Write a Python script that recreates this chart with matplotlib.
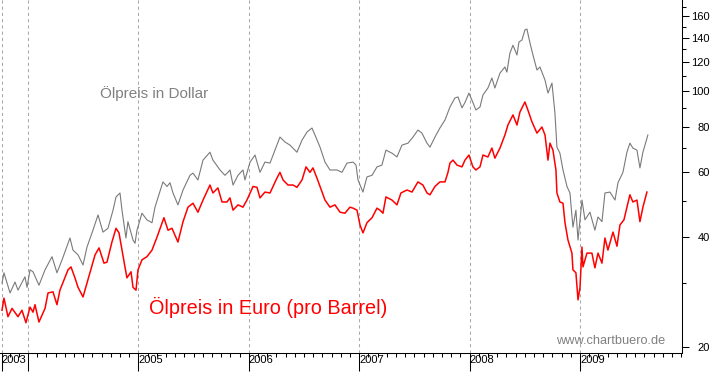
import matplotlib.pyplot as plt
from matplotlib.ticker import NullFormatter

plt.rcParams['font.family'] = ['Liberation Sans', 'DejaVu Sans']

# oil price in dollar (decimal year, price)
dollar_t = [2003.764, 2003.782, 2003.837, 2003.882, 2003.909, 2003.972, 2003.991, 2004.018, 2004.045, 2004.099,
            2004.154, 2004.217, 2004.262, 2004.308, 2004.380, 2004.407, 2004.453, 2004.498, 2004.534, 2004.588,
            2004.634, 2004.679, 2004.724, 2004.770, 2004.797, 2004.833, 2004.851, 2004.887, 2004.905, 2004.951,
            2004.969, 2004.987, 2005.032, 2005.077, 2005.123, 2005.150, 2005.222, 2005.259, 2005.286, 2005.313,
            2005.358, 2005.404, 2005.467, 2005.494, 2005.539, 2005.585, 2005.648, 2005.675, 2005.739, 2005.784,
            2005.811, 2005.829, 2005.857, 2005.902, 2005.947, 2005.965, 2006.011, 2006.056, 2006.101, 2006.146,
            2006.192, 2006.237, 2006.282, 2006.328, 2006.373, 2006.436, 2006.482, 2006.527, 2006.572, 2006.599,
            2006.645, 2006.690, 2006.735, 2006.799, 2006.844, 2006.889, 2006.944, 2006.971, 2006.989, 2007.034,
            2007.070, 2007.116, 2007.161, 2007.206, 2007.242, 2007.297, 2007.342, 2007.387, 2007.442, 2007.487,
            2007.532, 2007.568, 2007.614, 2007.641, 2007.686, 2007.731, 2007.777, 2007.822, 2007.867, 2007.895,
            2007.931, 2007.958, 2007.994, 2008.030, 2008.057, 2008.094, 2008.121, 2008.166, 2008.202, 2008.229,
            2008.275, 2008.320, 2008.338, 2008.365, 2008.393, 2008.429, 2008.447, 2008.474, 2008.501, 2008.519,
            2008.547, 2008.574, 2008.610, 2008.637, 2008.683, 2008.710, 2008.746, 2008.773, 2008.791, 2008.818,
            2008.846, 2008.882, 2008.909, 2008.936, 2008.963, 2008.982, 2009.018, 2009.045, 2009.090, 2009.135,
            2009.163, 2009.199, 2009.226, 2009.271, 2009.317, 2009.344, 2009.389, 2009.425, 2009.452, 2009.479,
            2009.516, 2009.543, 2009.570, 2009.615]
dollar = [29.9, 31.9, 28.1, 30.1, 28.6, 31.1, 29.1, 32.5, 32.1, 29.5,
          32.5, 35.3, 31.9, 34.6, 39.7, 36.8, 35.7, 33.5, 37.5, 41.7,
          45.9, 41.2, 42.2, 47.3, 51.4, 52.7, 47.3, 39.7, 44.0, 39.2,
          38.4, 41.7, 46.4, 44.5, 43.7, 48.2, 56.5, 54.9, 56.2, 52.7,
          48.9, 53.7, 58.9, 59.7, 57.2, 64.8, 68.1, 64.8, 60.9, 58.9,
          60.0, 60.9, 55.4, 58.9, 60.9, 57.2, 64.0, 66.9, 60.0, 64.0,
          63.6, 69.0, 74.9, 72.6, 71.2, 68.1, 73.5, 77.3, 79.3, 75.9,
          70.3, 64.0, 60.9, 60.9, 60.0, 63.6, 64.0, 62.8, 57.2, 53.0,
          58.3, 58.9, 62.1, 62.8, 69.0, 67.7, 66.1, 71.2, 72.1, 74.9,
          78.3, 76.8, 72.1, 70.3, 74.9, 79.3, 83.4, 90.5, 95.8, 96.4,
          90.0, 93.1, 98.8, 93.1, 88.8, 90.5, 97.6, 102.0, 108.6, 102.0,
          112.0, 116.4, 112.7, 127.0, 133.5, 125.5, 136.2, 137.9, 146.9, 147.8,
          135.4, 125.5, 114.2, 116.4, 107.2, 98.8, 105.2, 87.1, 70.3, 67.7,
          60.9, 54.9, 52.7, 42.5, 47.3, 39.2, 50.4, 44.5, 46.7, 41.7,
          45.3, 44.0, 52.7, 53.0, 50.4, 56.2, 60.0, 68.1, 72.1, 69.9,
          69.0, 61.7, 68.1, 75.9]

# oil price in euro
euro_t = [2003.764, 2003.782, 2003.818, 2003.855, 2003.909, 2003.945, 2003.981, 2004.018, 2004.045, 2004.063,
          2004.099, 2004.154, 2004.181, 2004.226, 2004.262, 2004.289, 2004.362, 2004.389, 2004.425, 2004.453,
          2004.498, 2004.534, 2004.607, 2004.643, 2004.688, 2004.715, 2004.760, 2004.797, 2004.824, 2004.851,
          2004.878, 2004.896, 2004.933, 2004.951, 2004.978, 2004.996, 2005.032, 2005.077, 2005.123, 2005.168,
          2005.231, 2005.268, 2005.304, 2005.358, 2005.404, 2005.449, 2005.494, 2005.539, 2005.585, 2005.648,
          2005.675, 2005.720, 2005.757, 2005.802, 2005.829, 2005.857, 2005.902, 2005.947, 2005.983, 2006.038,
          2006.074, 2006.101, 2006.146, 2006.192, 2006.219, 2006.255, 2006.282, 2006.310, 2006.355, 2006.400,
          2006.436, 2006.482, 2006.518, 2006.554, 2006.581, 2006.617, 2006.663, 2006.690, 2006.735, 2006.780,
          2006.826, 2006.871, 2006.916, 2006.944, 2006.980, 2007.007, 2007.034, 2007.070, 2007.116, 2007.161,
          2007.188, 2007.215, 2007.242, 2007.297, 2007.342, 2007.378, 2007.433, 2007.478, 2007.532, 2007.577,
          2007.614, 2007.641, 2007.686, 2007.731, 2007.777, 2007.804, 2007.822, 2007.849, 2007.886, 2007.931,
          2007.958, 2007.994, 2008.030, 2008.057, 2008.094, 2008.121, 2008.166, 2008.202, 2008.229, 2008.275,
          2008.320, 2008.347, 2008.393, 2008.429, 2008.456, 2008.501, 2008.528, 2008.565, 2008.610, 2008.655,
          2008.683, 2008.710, 2008.728, 2008.755, 2008.782, 2008.791, 2008.818, 2008.846, 2008.864, 2008.891,
          2008.927, 2008.936, 2008.963, 2008.982, 2009.000, 2009.018, 2009.027, 2009.063, 2009.108, 2009.135,
          2009.163, 2009.199, 2009.226, 2009.253, 2009.299, 2009.335, 2009.362, 2009.398, 2009.425, 2009.452,
          2009.479, 2009.516, 2009.543, 2009.570, 2009.606]
euro = [25.2, 27.2, 24.2, 25.5, 24.2, 25.2, 23.3, 25.7, 24.9, 26.1,
        23.4, 25.5, 28.1, 28.3, 26.1, 28.6, 32.5, 33.1, 30.9, 29.1,
        27.4, 29.9, 35.7, 37.3, 33.9, 34.1, 38.7, 42.2, 41.0, 36.8,
        33.1, 30.9, 32.1, 29.1, 28.6, 32.5, 34.6, 35.3, 36.8, 39.9,
        45.1, 41.7, 42.2, 38.7, 44.0, 48.2, 49.4, 46.7, 50.4, 55.4,
        52.7, 54.4, 49.8, 49.8, 51.1, 47.3, 48.9, 48.2, 50.4, 54.9,
        54.6, 51.1, 53.0, 52.7, 54.9, 57.9, 60.0, 57.2, 55.4, 55.4,
        54.6, 57.2, 62.1, 60.0, 61.7, 57.9, 53.0, 50.4, 48.2, 48.9,
        46.7, 46.4, 48.2, 47.9, 47.3, 43.1, 41.0, 43.7, 45.1, 47.9,
        47.3, 46.4, 51.4, 50.4, 48.9, 52.7, 53.7, 53.0, 56.5, 55.4,
        52.7, 52.1, 54.9, 56.5, 56.5, 60.0, 63.6, 64.8, 62.8, 62.1,
        64.8, 66.9, 62.1, 60.9, 62.1, 66.9, 66.1, 69.9, 65.6, 69.9,
        75.9, 80.8, 86.1, 80.8, 87.7, 93.4, 88.8, 82.4, 76.8, 79.8,
        75.9, 64.8, 72.1, 69.0, 60.9, 52.7, 49.8, 49.4, 43.7, 39.2,
        36.1, 32.5, 31.9, 26.9, 29.1, 37.5, 33.1, 36.1, 36.1, 32.9,
        36.1, 33.9, 39.7, 36.8, 41.2, 37.7, 43.1, 44.5, 48.2, 52.1,
        49.8, 50.4, 44.0, 48.2, 53.0]

year_ticks = [2003.76, 2004, 2005, 2006, 2007, 2008, 2009]
year_labels = ['2003', '', '2005', '2006', '2007', '2008', '2009']
month_ticks = [2003 + 9 / 12 + m / 12 for m in range(1, 75)]
price_ticks = [20, 40, 60, 80, 100, 120, 140, 160]
price_minor = [30, 50, 70, 90, 110, 130, 150, 170]

fig = plt.figure(figsize=(7.23, 3.73), dpi=100)
ax = fig.add_axes([0, 20 / 373, 682 / 723, 353 / 373])

ax.plot(dollar_t, dollar, color='#7a7a7a', lw=0.8)
ax.plot(euro_t, euro, color='#ff0000', lw=1.1)

ax.set_yscale('log')
ax.set_ylim(19.26, 177.4)
ax.set_xlim(2003.746, 2009.924)

ax.yaxis.tick_right()
ax.set_yticks(price_ticks, labels=[str(p) for p in price_ticks])
ax.set_yticks(price_minor, minor=True)
ax.yaxis.set_minor_formatter(NullFormatter())
ax.tick_params(axis='y', which='major', direction='out', length=5, width=0.75, labelsize=8, pad=15)
ax.tick_params(axis='y', which='minor', direction='out', length=3, width=0.75)
for lbl in ax.get_yticklabels():
    lbl.set_horizontalalignment('right')

ax.set_xticks(year_ticks, labels=year_labels)
ax.set_xticks(month_ticks, minor=True)
ax.tick_params(axis='x', which='major', direction='out', length=13, width=0.75, labelsize=8, pad=-11.5)
ax.tick_params(axis='x', which='minor', direction='out', length=3, width=0.75)
for lbl in ax.get_xticklabels():
    lbl.set_horizontalalignment('left')

ax.grid(axis='x', which='major', color='#a8a8a8', linestyle=(0, (3, 3)), linewidth=0.75)

for side in ['top', 'left']:
    ax.spines[side].set_visible(False)
for side in ['bottom', 'right']:
    ax.spines[side].set_linewidth(0.75)

ax.text(0.1466, 0.734, 'Ölpreis in Dollar', transform=ax.transAxes,
        color='#808080', fontsize=11, va='center', ha='left')
ax.text(0.219, 0.130, 'Ölpreis in Euro (pro Barrel)', transform=ax.transAxes,
        color='#ff0000', fontsize=14.3, va='center', ha='left')
ax.text(0.975, 0.034, 'www.chartbuero.de', transform=ax.transAxes,
        color='#808080', fontsize=9.2, va='center', ha='right')

fig.savefig('out.png', dpi=100)
